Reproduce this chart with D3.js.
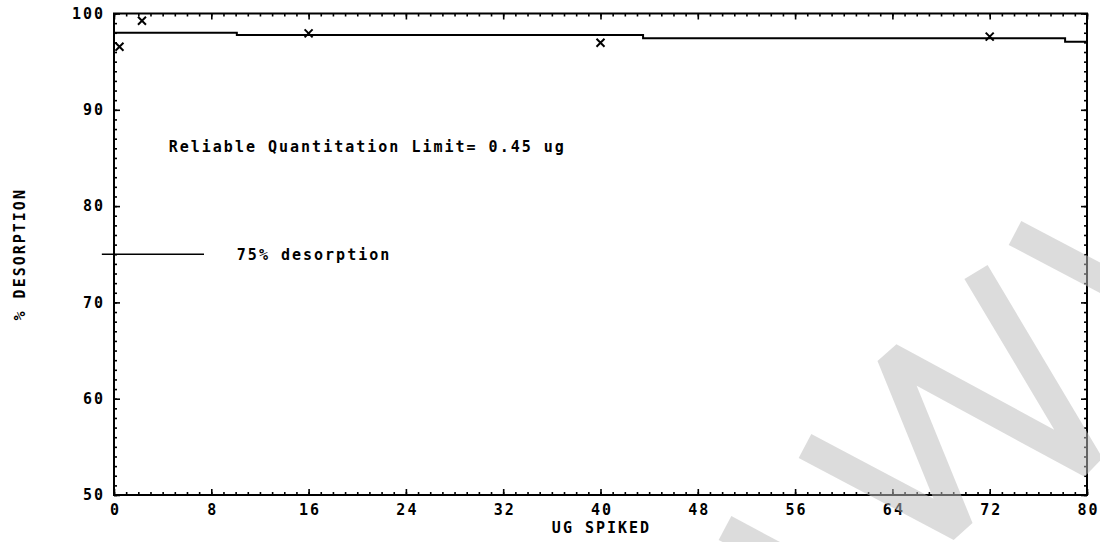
<!DOCTYPE html>
<html>
<head>
<meta charset="utf-8">
<script src="https://cdn.jsdelivr.net/npm/d3@7"></script>
<style>
  body { margin: 0; background: #fff; }
  svg text { font-family: "DejaVu Sans Mono", monospace; font-weight: bold; fill: #000; }
</style>
</head>
<body>
<svg id="chart" width="1100" height="542"></svg>
<script>
// data
var spikedUg = [0.45, 2.3, 16, 40, 72];
var desorption = [96.55, 99.25, 97.94, 96.97, 97.6];
// fitted line as the plotter drew it (stepped)
var fitX = [0, 10.1, 43.5, 78.2, 80];
var fitY = [98.0, 97.77, 97.42, 97.07, 97.07];
var limitLevel = 75;
var limitSpan = [-1, 7.4];
var xMajor = [0, 8, 16, 24, 32, 40, 48, 56, 64, 72, 80];
var yMajor = [50, 60, 70, 80, 90, 100];
var rqlText = "Reliable Quantitation Limit= 0.45 ug";
var limitText = "75% desorption";

var svg = d3.select("#chart");
var x = d3.scaleLinear().domain([0, 80]).range([114, 1087]);
var y = d3.scaleLinear().domain([50, 100]).range([495, 13.5]);

var fontPx = 15, spacing = 2;

function tickStyle(g) {
  g.select(".domain").remove();
  g.selectAll("line").attr("stroke", "#000").attr("stroke-width", 1.6);
  g.selectAll("text").attr("font-size", fontPx).attr("letter-spacing", spacing)
    .attr("font-family", "DejaVu Sans Mono").attr("font-weight", "bold");
}

// minor ticks, every unit, on all four sides
svg.append("g").attr("transform", "translate(0,495)")
  .call(d3.axisBottom(x).tickValues(d3.range(0, 81, 1)).tickSize(-3).tickFormat("")).call(tickStyle);
svg.append("g").attr("transform", "translate(0,13.5)")
  .call(d3.axisTop(x).tickValues(d3.range(0, 81, 1)).tickSize(-3).tickFormat("")).call(tickStyle);
svg.append("g").attr("transform", "translate(114,0)")
  .call(d3.axisLeft(y).tickValues(d3.range(50, 101, 1)).tickSize(-3).tickFormat("")).call(tickStyle);
svg.append("g").attr("transform", "translate(1087,0)")
  .call(d3.axisRight(y).tickValues(d3.range(50, 101, 1)).tickSize(-3).tickFormat("")).call(tickStyle);

// major ticks + labels
svg.append("g").attr("transform", "translate(0,495)")
  .call(d3.axisBottom(x).tickValues(xMajor).tickSize(-6).tickPadding(9)).call(tickStyle)
  .selectAll("text").attr("dx", spacing / 2);
svg.append("g").attr("transform", "translate(0,13.5)")
  .call(d3.axisTop(x).tickValues(xMajor).tickSize(-6).tickFormat("")).call(tickStyle);
svg.append("g").attr("transform", "translate(114,0)")
  .call(d3.axisLeft(y).tickValues(yMajor).tickSize(-6).tickPadding(9)).call(tickStyle);
svg.append("g").attr("transform", "translate(1087,0)")
  .call(d3.axisRight(y).tickValues(yMajor).tickSize(-6).tickFormat("")).call(tickStyle);

// frame
svg.append("rect")
  .attr("x", x(0)).attr("y", y(100))
  .attr("width", x(80) - x(0)).attr("height", y(50) - y(100))
  .attr("fill", "none").attr("stroke", "#000").attr("stroke-width", 2);

// axis titles
svg.append("text")
  .attr("x", (x(0) + x(80)) / 2 + spacing / 2).attr("y", 533)
  .attr("text-anchor", "middle").attr("font-size", fontPx).attr("letter-spacing", spacing)
  .text("UG SPIKED");
svg.append("text")
  .attr("transform", "translate(25," + y(75) + ") rotate(-90)")
  .attr("text-anchor", "middle").attr("font-size", fontPx).attr("letter-spacing", spacing)
  .text("% DESORPTION");

// fitted line
var fitLine = d3.line().x(function(d, i) { return x(fitX[i]); })
  .y(function(d, i) { return y(fitY[i]); }).curve(d3.curveStepAfter);
svg.append("path").datum(fitX)
  .attr("fill", "none").attr("stroke", "#000").attr("stroke-width", 2)
  .attr("d", fitLine);

// data markers
var mk = 4;
var pts = svg.append("g").selectAll("g").data(spikedUg).join("g")
  .attr("transform", function(d, i) { return "translate(" + x(d) + "," + y(desorption[i]) + ")"; });
pts.append("path")
  .attr("d", "M" + (-mk) + "," + (-mk) + "L" + mk + "," + mk + "M" + mk + "," + (-mk) + "L" + (-mk) + "," + mk)
  .attr("stroke", "#000").attr("stroke-width", 2);

// 75% desorption reference
svg.append("line")
  .attr("x1", x(limitSpan[0])).attr("x2", x(limitSpan[1]))
  .attr("y1", y(limitLevel)).attr("y2", y(limitLevel))
  .attr("stroke", "#000").attr("stroke-width", 1.6);
svg.append("text")
  .attr("x", x(10.1)).attr("y", y(limitLevel)).attr("dy", "0.35em")
  .attr("font-size", fontPx).attr("letter-spacing", spacing)
  .text(limitText);

svg.append("text")
  .attr("x", x(4.5)).attr("y", y(85.6))
  .attr("font-size", fontPx).attr("letter-spacing", spacing)
  .text(rqlText);

// scanned watermark strokes (decoration, page pixels)
var marks = [
  [[805, 446], [960, 528], [890, 356], [1091, 465], [976, 272]],
  [[1015, 233], [1112, 284], [1160, 390]],
  [[725, 528], [800, 568]]
];
svg.append("g").selectAll("path").data(marks).join("path")
  .attr("d", d3.line())
  .attr("fill", "none")
  .attr("stroke", "rgb(189,189,189)").attr("stroke-opacity", 0.53)
  .attr("stroke-width", 27).attr("stroke-linejoin", "bevel");
</script>
</body>
</html>
